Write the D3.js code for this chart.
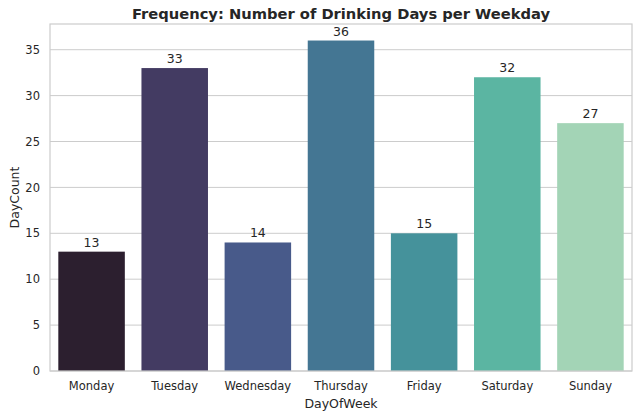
<!DOCTYPE html>
<html>
<head>
<meta charset="utf-8">
<script src="https://cdn.jsdelivr.net/npm/d3@7"></script>
<style>
  body { margin: 0; background: #fff; }
  text { font-family: "DejaVu Sans", sans-serif; fill: #262626; }
</style>
</head>
<body>
<div id="chart"></div>
<script>
// data
var days = ["Monday", "Tuesday", "Wednesday", "Thursday", "Friday", "Saturday", "Sunday"];
var dayCounts = [13, 33, 14, 36, 15, 32, 27];
var barColors = ["#2c1f2f", "#433b62", "#485a8a", "#447693", "#45929b", "#5bb5a2", "#a3d4b6"];
var yTicks = [0, 5, 10, 15, 20, 25, 30, 35];

var svgWidth = 640, svgHeight = 418;
var margin = {top: 24, right: 8, bottom: 47, left: 50};
var width = svgWidth - margin.left - margin.right;
var height = svgHeight - margin.top - margin.bottom;

var svg = d3.select("#chart").append("svg")
  .attr("width", svgWidth)
  .attr("height", svgHeight);

var chartGroup = svg.append("g")
  .attr("transform", `translate(${margin.left}, ${margin.top})`);

var xScale = d3.scaleBand()
  .domain(days)
  .range([0, width])
  .paddingInner(0.2)
  .paddingOuter(0.1);

var yScale = d3.scaleLinear()
  .domain([0, d3.max(dayCounts) * 1.05])
  .range([height, 0]);

// grid lines
chartGroup.append("g")
  .selectAll("line")
  .data(yTicks)
  .enter()
  .append("line")
  .attr("x1", 0)
  .attr("x2", width)
  .attr("y1", d => yScale(d))
  .attr("y2", d => yScale(d))
  .attr("stroke", "#cccccc")
  .attr("stroke-width", 1);

// axes
var leftAxis = d3.axisLeft(yScale).tickValues(yTicks).tickSize(0).tickPadding(10);
var bottomAxis = d3.axisBottom(xScale).tickSize(0).tickPadding(11);

var yAxisG = chartGroup.append("g").call(leftAxis);
yAxisG.select(".domain").remove();
yAxisG.selectAll("text").style("font-size", "11.5px").attr("fill", "#262626");

var xAxisG = chartGroup.append("g")
  .attr("transform", `translate(0, ${height})`)
  .call(bottomAxis);
xAxisG.select(".domain").remove();
xAxisG.selectAll("text").style("font-size", "11.5px").attr("fill", "#262626");

// bars
var data = days.map((d, i) => ({day: d, count: dayCounts[i], color: barColors[i]}));

chartGroup.selectAll("rect.bar")
  .data(data)
  .enter()
  .append("rect")
  .attr("class", "bar")
  .attr("x", d => xScale(d.day))
  .attr("y", d => yScale(d.count))
  .attr("width", xScale.bandwidth())
  .attr("height", d => height - yScale(d.count))
  .attr("fill", d => d.color);

// value labels
chartGroup.selectAll("text.val")
  .data(data)
  .enter()
  .append("text")
  .attr("class", "val")
  .attr("x", d => xScale(d.day) + xScale.bandwidth() / 2)
  .attr("y", d => yScale(d.count) - 5)
  .attr("text-anchor", "middle")
  .style("font-size", "12.5px")
  .text(d => d.count);

// frame
chartGroup.append("rect")
  .attr("x", 0).attr("y", 0)
  .attr("width", width).attr("height", height)
  .attr("fill", "none")
  .attr("stroke", "#cccccc")
  .attr("stroke-width", 1.2);

// title + labels
svg.append("text")
  .attr("x", margin.left + width / 2)
  .attr("y", 19)
  .attr("text-anchor", "middle")
  .style("font-size", "14.7px")
  .style("font-weight", "bold")
  .text("Frequency: Number of Drinking Days per Weekday");

svg.append("text")
  .attr("x", margin.left + width / 2)
  .attr("y", 408)
  .attr("text-anchor", "middle")
  .style("font-size", "12.5px")
  .text("DayOfWeek");

svg.append("text")
  .attr("transform", `translate(19, ${margin.top + height / 2}) rotate(-90)`)
  .attr("text-anchor", "middle")
  .style("font-size", "12.5px")
  .text("DayCount");
</script>
</body>
</html>
